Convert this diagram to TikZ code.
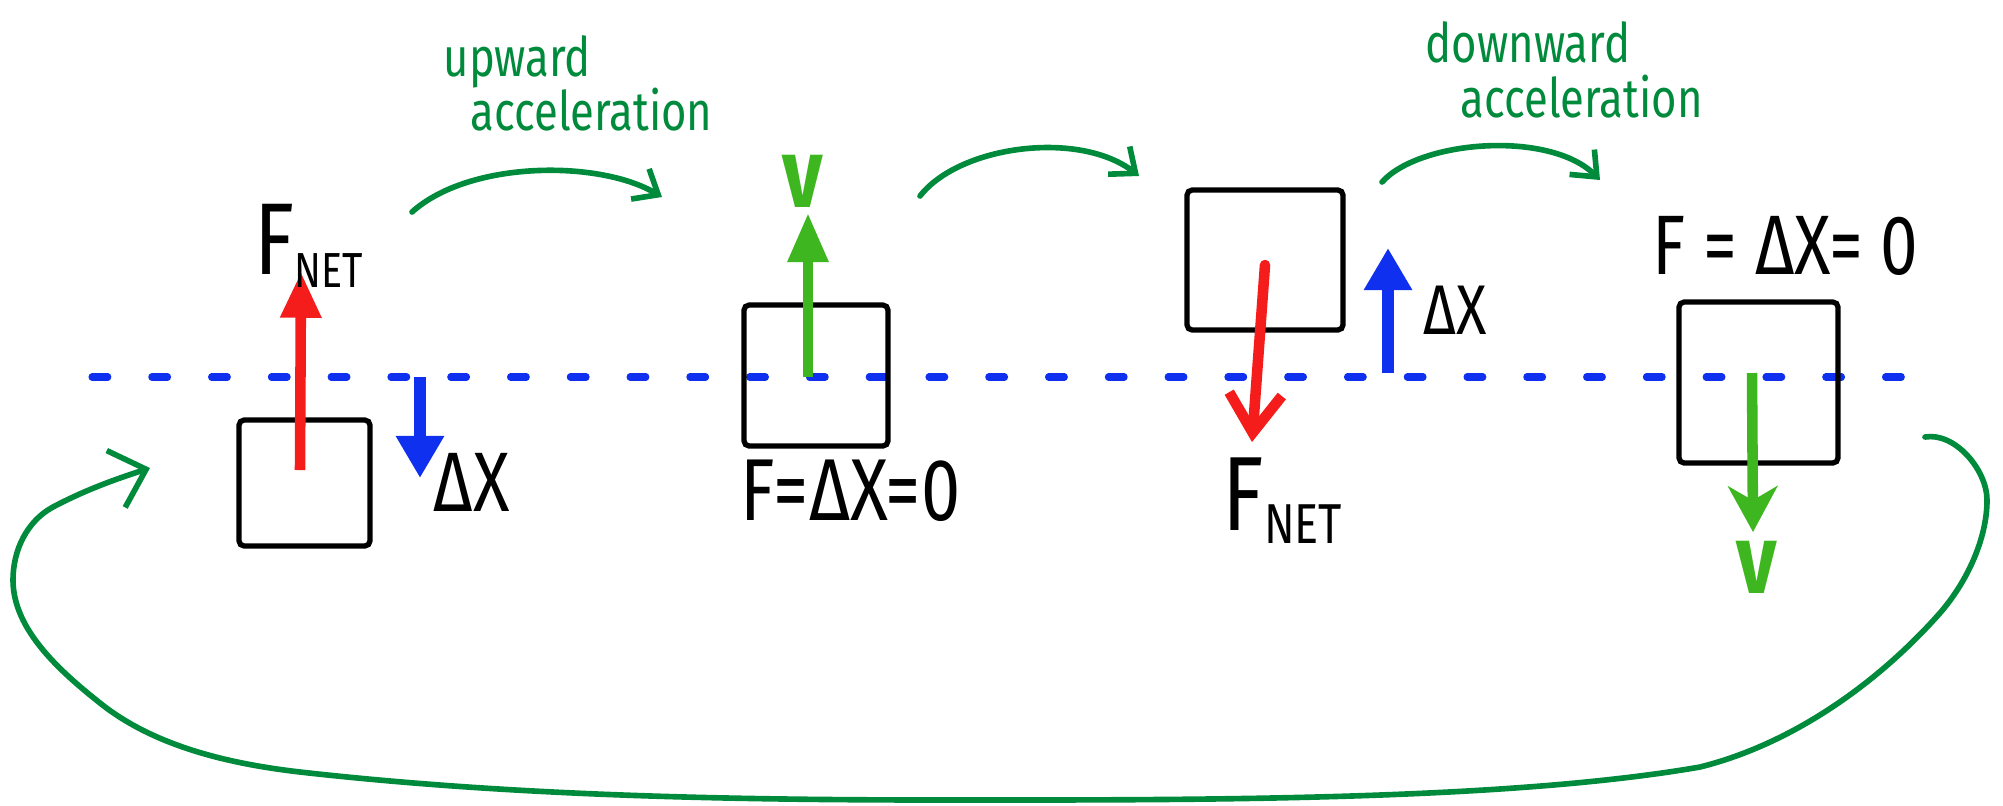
\documentclass[tikz,border=0pt]{standalone}
\usepackage{fontspec}
\setmainfont{Fira Sans}
\newfontfamily\lblfont{Fira Sans}[FakeStretch=0.8]
\usetikzlibrary{arrows.meta}

\definecolor{accgreen}{RGB}{0,138,60}
\definecolor{velgreen}{RGB}{62,182,32}
\definecolor{fnetred}{RGB}{245,28,28}
\definecolor{dxblue}{RGB}{16,48,240}

\begin{document}
\begin{tikzpicture}[
  x=0.01cm, y=-0.01cm,
  lbl/.style={inner sep=0pt, anchor=base west, font=\lblfont\fontsize{25}{25}\selectfont},
  hand/.style={inner sep=0pt, anchor=base west, text=accgreen, font=\lblfont\fontsize{15.5}{15.5}\selectfont},
  box/.style={draw=black, line width=1.5pt, rounded corners=1.5pt, inner sep=0pt},
  fnet/.style={line width=3pt, draw=fnetred, -{Triangle[length=13pt,width=11pt]}},
  fnetopen/.style={line width=3pt, draw=fnetred, line cap=round, -{Straight Barb[length=11pt,width=15pt]}},
  dx/.style={line width=3.2pt, draw=dxblue, -{Triangle[length=12pt,width=13pt]}},
  vel/.style={line width=3pt, draw=velgreen, -{Triangle[length=14pt,width=11pt]}},
  veldown/.style={line width=3pt, draw=velgreen, -{Stealth[length=13pt,width=14pt,inset=4pt]}},
  accel/.style={line width=1.6pt, draw=accgreen, line cap=round, -{Straight Barb[length=6pt,width=10pt]}},
  eqline/.style={line width=2pt, draw=dxblue, line cap=round, dash pattern=on 4.5pt off 12.5pt},
]
\useasboundingbox (0,0) rectangle (2003,805);
\fill[white] (0,0) rectangle (2003,805);

% ---- equilibrium line ----
\coordinate (eqL) at (92,377);
\coordinate (eqR) at (1929,377);
\draw[eqline] (eqL) -- (eqR);

% ---- the mass at four moments ----
\node[box, minimum width=1.31cm, minimum height=1.26cm] (lowest) at (304.5,483) {};
\node[box, minimum width=1.44cm, minimum height=1.41cm] (passup) at (816,375.5) {};
\node[box, minimum width=1.56cm, minimum height=1.40cm] (highest) at (1265,260) {};
\node[box, minimum width=1.59cm, minimum height=1.61cm] (passdown) at (1758.5,382.5) {};

% ---- lowest point: net force up, displacement down ----
\coordinate (fnetfoot1) at (300,470);
\coordinate (fnettip1) at (301,272);
\draw[fnet] (fnetfoot1) -- (fnettip1);
\coordinate (dxfoot1) at (420,377);
\coordinate (dxtip1) at (420,478);
\draw[dx] (dxfoot1) -- (dxtip1);
\node[lbl, font=\lblfont\fontsize{29}{29}\selectfont] (fnetup) at (254,274) {F\raisebox{-0.25ex}{\fontsize{14}{14}\selectfont NET}};
\node[lbl, font=\lblfont\fontsize{24}{24}\selectfont] (dxdown) at (433,511) {ΔX};

% ---- passing equilibrium upward ----
\coordinate (velfoot2) at (808,377);
\coordinate (veltip2) at (808,213);
\draw[vel] (velfoot2) -- (veltip2);
\node[lbl, anchor=base, text=velgreen, font=\lblfont\fontsize{28}{28}\selectfont\bfseries] (vup) at (803,207) {v};
\node[lbl] (rest1) at (740,520) {F=ΔX=0};

% ---- highest point: net force down, displacement up ----
\coordinate (fnetfoot3) at (1265,265);
\coordinate (fnettip3) at (1252,442);
\draw[fnetopen] (fnetfoot3) -- (fnettip3);
\coordinate (dxfoot3) at (1388,373);
\coordinate (dxtip3) at (1388,248);
\draw[dx] (dxfoot3) -- (dxtip3);
\node[lbl, font=\lblfont\fontsize{30}{30}\selectfont] (fnetdown) at (1222,530) {F\raisebox{-0.25ex}{\fontsize{16}{16}\selectfont NET}};
\node[lbl, font=\lblfont\fontsize{20}{20}\selectfont] (dxup) at (1423,334) {ΔX};

% ---- passing equilibrium downward ----
\coordinate (velfoot4) at (1752,373);
\coordinate (veltip4) at (1753,532);
\draw[veldown] (velfoot4) -- (veltip4);
\node[lbl, anchor=base, text=velgreen, font=\lblfont\fontsize{28}{28}\selectfont\bfseries] (vdown) at (1757,593) {v};
\node[lbl, font=\lblfont\fontsize{24}{24}\selectfont] (rest2) at (1652,274) {F = ΔX= 0};

% ---- acceleration notes ----
\node[hand] (upw) at (443,76) {upward};
\node[hand] (upacc) at (470,130) {acceleration};
\node[hand] (dnw) at (1425,62) {downward};
\node[hand] (dnacc) at (1460,117) {acceleration};

% ---- stage arrows ----
\coordinate (arc1a) at (412,212);
\coordinate (arc1b) at (662,197);
\draw[accel] (arc1a) .. controls (470,160) and (600,160) .. (arc1b);
\coordinate (arc2a) at (920,196);
\coordinate (arc2b) at (1139,176);
\draw[accel] (arc2a) .. controls (960,145) and (1080,130) .. (arc2b);
\coordinate (arc3a) at (1382,182);
\coordinate (arc3b) at (1600,180);
\draw[accel] (arc3a) .. controls (1420,140) and (1550,130) .. (arc3b);

% ---- back round to the start ----
\coordinate (loopa) at (1925,437);
\coordinate (loopb) at (150,468);
\draw[accel, -{Straight Barb[length=9pt,width=17pt]}] (loopa)
  .. controls (1955,432) and (1987,470) .. (1987,500)
  .. controls (1987,540) and (1966,583) .. (1940,613)
  .. controls (1877,684) and (1792,744) .. (1700,767)
  .. controls (1504,801) and (1196,800) .. (946,800)
  .. controls (731,800) and (513,796) .. (300,772)
  .. controls (231,764) and (155,747) .. (100,703)
  .. controls (61,672) and (13,630) .. (13,580)
  .. controls (13,550) and (27,521) .. (53,507)
  .. controls (85,490) and (116,479) .. (loopb);
\end{tikzpicture}
\end{document}
